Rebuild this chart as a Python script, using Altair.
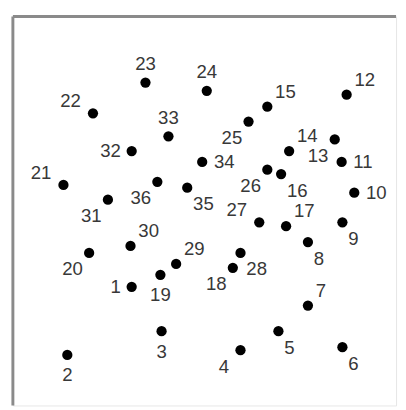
import altair as alt
import pandas as pd

# point numbers, coordinates (chart units) and label side
ids = list(range(1, 37))
xs = [31.0, 14.2, 38.8, 59.4, 69.3, 86.0, 77.0, 77.0, 86.0, 89.1,
      85.8, 87.1, 84.0, 72.1, 66.4, 70.0, 71.3, 57.4, 38.5, 19.9,
      13.2, 20.9, 34.6, 50.6, 61.5, 66.4, 64.3, 59.4, 42.6, 30.7,
      24.8, 31.0, 40.6, 49.4, 45.5, 37.7]
ys = [30.5, 13.0, 19.1, 14.2, 19.1, 15.0, 25.7, 42.0, 47.1, 54.7,
      62.6, 79.9, 68.4, 65.4, 76.8, 59.5, 46.1, 35.4, 33.6, 39.2,
      56.7, 75.1, 83.0, 80.9, 73.0, 60.6, 47.1, 39.2, 36.4, 41.0,
      52.9, 65.4, 69.2, 62.6, 56.0, 57.5]
sides = ["W", "S", "S", "SW", "SE", "SE", "NE", "SE", "SE", "E",
         "E", "NE", "SW", "NE", "NE", "SE", "NE", "SW", "S", "SW",
         "NW", "NW", "N", "N", "SW", "SW", "NW", "SE", "NE", "NE",
         "SW", "W", "N", "E", "SE", "SW"]

df = pd.DataFrame({"id": ids, "x": xs, "y": ys, "side": sides})
df["label"] = df["id"].astype(str)

W, H = 392, 398
xs_scale = alt.Scale(domain=[0, 100])
ys_scale = alt.Scale(domain=[0, 100])

base = alt.Chart(df).encode(
    x=alt.X("x:Q", scale=xs_scale, axis=None),
    y=alt.Y("y:Q", scale=ys_scale, axis=None),
)

dots = base.mark_point(filled=True, shape="circle", size=110, color="black", opacity=1)

# label placement style per side: (align, dx, dy)
place = {
    "N": ("center", 0, -19),
    "S": ("center", 0, 21),
    "E": ("left", 12, 0),
    "W": ("right", -11, 0),
    "NE": ("left", 8, -15),
    "SE": ("left", 6, 17),
    "SW": ("center", -17, 17),
    "NW": ("center", -23, -12),
}

layers = [dots]
for side, (al, dx, dy) in place.items():
    layers.append(
        base.transform_filter(alt.datum.side == side).mark_text(
            align=al, baseline="middle", dx=dx, dy=dy,
            font="Liberation Sans", fontSize=19, color="#383838"
        ).encode(text="label:N")
    )

edge = alt.Chart(pd.DataFrame({"a": [0]}))
left_rule = edge.mark_rule(color="#8a8a8a", strokeWidth=3).encode(
    x=alt.value(0), y=alt.value(0), y2=alt.value(H))
top_rule = edge.mark_rule(color="#8a8a8a", strokeWidth=3).encode(
    y=alt.value(0), x=alt.value(0), x2=alt.value(W))

chart = alt.layer(*layers, left_rule, top_rule).properties(
    width=W, height=H,
    padding={"left": 3, "top": 2, "right": 0, "bottom": 0},
).configure_view(stroke="#e6e6e6", strokeWidth=1)

chart.save("out.html", embed_options={"renderer": "svg", "actions": False})
